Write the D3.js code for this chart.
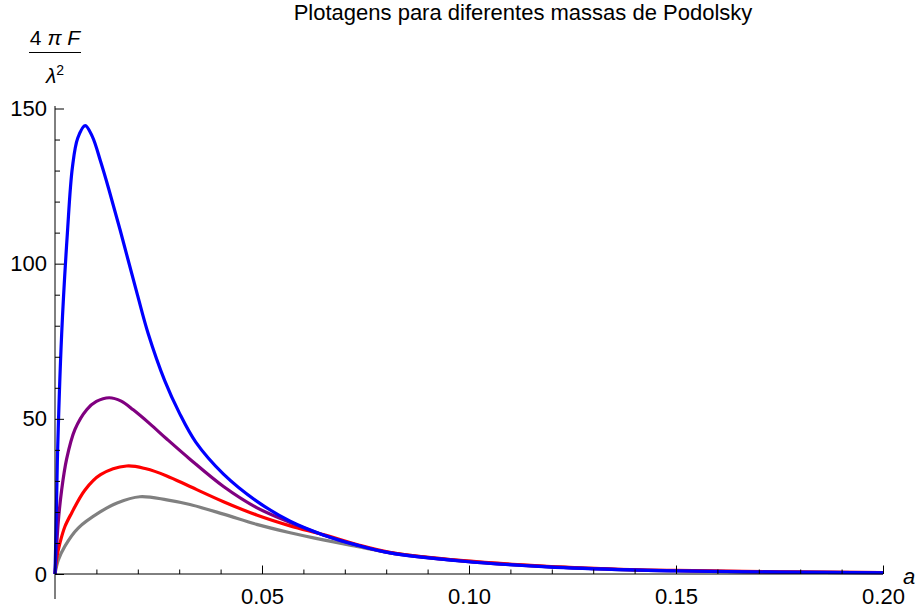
<!DOCTYPE html>
<html lang="pt">
<head>
    <meta charset="UTF-8">
    <title>Plotagens</title>
    <script src="https://cdn.jsdelivr.net/npm/d3@7/dist/d3.min.js"></script>
    <style>
        body { margin: 0; background: #fff; }
        text { font-family: "Liberation Sans", Arial, sans-serif; }
    </style>
</head>
<body>
    <svg width="917" height="614" id="mainsvg"></svg>
    <script>
        // pontos: [a, 4πF/λ²]
        const cinza = [[0,0],[0.0008,4.5],[0.0024,9],[0.0056,14.8],[0.0109,20],[0.015,22.9],[0.0205,24.9],[0.027,23.9],[0.0326,22.4],[0.0407,19.3],[0.0487,16],[0.0568,13.3],[0.0648,11],[0.0729,8.9],[0.0809,6.9],[0.0986,4.2],[0.1188,2.4],[0.139,1.35],[0.15,1.05],[0.175,0.6],[0.2,0.4]];
        const vermelho = [[0,0],[0.0004,5],[0.0012,10],[0.0024,15.3],[0.004,19.6],[0.0072,27],[0.011,32],[0.0173,34.8],[0.022,33.9],[0.027,31.6],[0.0326,28.2],[0.0407,23.3],[0.0487,19],[0.0568,15.5],[0.0648,12.7],[0.0729,9.5],[0.0809,7.0],[0.0986,4.3],[0.1188,2.5],[0.139,1.45],[0.15,1.15],[0.175,0.7],[0.2,0.48]];
        const roxo = [[0,0],[0.0004,9],[0.0008,17],[0.0016,27],[0.0028,37],[0.0048,46.5],[0.0077,53],[0.010,55.6],[0.0131,56.8],[0.016,55.7],[0.0189,52.9],[0.023,48.3],[0.027,43.5],[0.0326,37],[0.0407,28.2],[0.0487,21.4],[0.0568,16.6],[0.0648,12.6],[0.0729,9.35],[0.0809,6.8],[0.0986,4.15],[0.1188,2.35],[0.139,1.35],[0.15,1.05],[0.175,0.62],[0.2,0.42]];
        const azul = [[0,0],[0.00024,14],[0.00056,36],[0.0016,77],[0.003,110],[0.0042,131],[0.0055,140.5],[0.0073,144.5],[0.009,141],[0.011,133],[0.013,124],[0.0157,111],[0.0199,90],[0.0225,77.5],[0.0265,62.3],[0.030,52],[0.034,42.5],[0.0407,32.2],[0.0487,23.5],[0.0568,17],[0.0648,12.6],[0.0729,9.3],[0.0809,6.8],[0.0986,4.1],[0.1188,2.3],[0.139,1.3],[0.15,1.0],[0.175,0.6],[0.2,0.4]];

        const series = [
            { nome: 'cinza', dados: cinza, cor: '#808080' },
            { nome: 'vermelho', dados: vermelho, cor: '#ff0000' },
            { nome: 'roxo', dados: roxo, cor: '#800080' },
            { nome: 'azul', dados: azul, cor: '#0000ff' }
        ];

        const xMajor = [0.05, 0.10, 0.15, 0.20];
        const xMajorLabels = ['0.05', '0.10', '0.15', '0.20'];
        const yMajor = [0, 50, 100, 150];
        const yMajorLabels = ['0', '50', '100', '150'];

        const svg = d3.select('#mainsvg');
        const x = d3.scaleLinear().domain([0, 0.2]).range([55, 883]);
        const y = d3.scaleLinear().domain([0, 150]).range([574, 108.5]);

        const xMinor = d3.range(1, 21).map(i => i / 100).filter(v => !xMajor.some(m => Math.abs(m - v) < 1e-9));
        const yMinor = d3.range(10, 160, 10).filter(v => v % 50 !== 0);

        // curvas
        const line = d3.line()
            .x(d => x(d[0]))
            .y(d => y(d[1]))
            .curve(d3.curveCatmullRom.alpha(0.5));

        svg.append('g').selectAll('path').data(series).join('path')
            .attr('d', d => line(d.dados))
            .attr('fill', 'none')
            .attr('stroke', d => d.cor)
            .attr('stroke-width', 3.2)
            .attr('stroke-linejoin', 'round');

        // eixo x
        const gx = svg.append('g').attr('transform', `translate(0,${y(0)})`);
        gx.call(d3.axisBottom(x).tickValues(xMinor).tickSize(-4.5).tickFormat(''));
        gx.append('g').call(d3.axisBottom(x).tickValues(xMajor).tickSize(-8.5)
            .tickFormat((d, i) => xMajorLabels[i]));
        gx.selectAll('.domain').remove();
        gx.append('line').attr('x1', x(0)).attr('x2', x(0.2)).attr('stroke', '#000');
        gx.selectAll('line').attr('stroke', '#000');
        gx.selectAll('text').attr('font-size', 22).attr('fill', '#000')
            .attr('dy', null).attr('y', 30);

        // eixo y
        const gy = svg.append('g').attr('transform', `translate(${x(0)},0)`);
        gy.call(d3.axisLeft(y).tickValues(yMinor).tickSize(-5).tickFormat(''));
        gy.append('g').call(d3.axisLeft(y).tickValues(yMajor).tickSize(-9).tickPadding(8)
            .tickFormat((d, i) => yMajorLabels[i]));
        gy.selectAll('.domain').remove();
        gy.append('line').attr('y1', 106).attr('y2', 599).attr('stroke', '#000');
        gy.selectAll('line').attr('stroke', '#000');
        gy.selectAll('text').attr('font-size', 22).attr('fill', '#000');

        // rótulo do eixo x
        svg.append('text').attr('x', 903).attr('y', 584)
            .attr('font-size', 22).attr('font-style', 'italic').text('a');

        // rótulo do eixo y: 4πF / λ²
        const lab = svg.append('g');
        const num = lab.append('text').attr('x', 55).attr('y', 45).attr('text-anchor', 'middle').attr('font-size', 21);
        num.append('tspan').text('4 ');
        num.append('tspan').attr('font-style', 'italic').text('π');
        num.append('tspan').attr('font-style', 'italic').text(' F');
        lab.append('line').attr('x1', 29).attr('x2', 81).attr('y1', 52.5).attr('y2', 52.5)
            .attr('stroke', '#000').attr('stroke-width', 1);
        const den = lab.append('text').attr('x', 55).attr('y', 83).attr('text-anchor', 'middle').attr('font-size', 21);
        den.append('tspan').attr('font-style', 'italic').text('λ');
        den.append('tspan').attr('font-size', 14).attr('dy', -8).text('2');

        // título
        svg.append('text').attr('x', 523).attr('y', 20).attr('text-anchor', 'middle')
            .attr('font-size', 22).text('Plotagens para diferentes massas de Podolsky');
    </script>
</body>
</html>
